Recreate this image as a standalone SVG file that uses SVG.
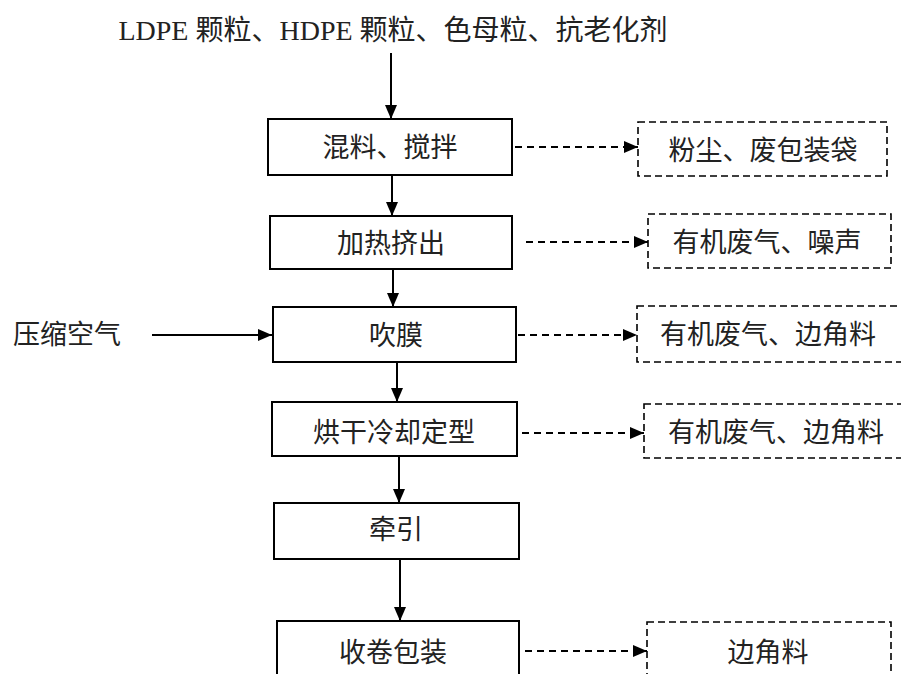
<svg xmlns="http://www.w3.org/2000/svg" width="901" height="674" viewBox="0 0 901 674">
<defs>
<marker id="ah" viewBox="0 0 14 12" refX="14" refY="6" markerWidth="14" markerHeight="12" markerUnits="userSpaceOnUse" orient="auto">
<path d="M0,0 L14,6 L0,12 Z" fill="#000"/>
</marker>
<style>
.t{font-family:"Liberation Serif","Noto Sans CJK SC",serif;font-size:27px;fill:#222;text-anchor:middle}
.box{fill:#fff;stroke:#000;stroke-width:2}
.dbox{fill:#fff;stroke:#000;stroke-width:1.6;stroke-dasharray:7 4}
.line{stroke:#000;stroke-width:2;fill:none;marker-end:url(#ah)}
.dline{stroke:#000;stroke-width:1.8;fill:none;stroke-dasharray:7 5;marker-end:url(#ah)}
</style>
</defs>
<rect width="901" height="674" fill="#fff"/>
<g id="connectors">
<line class="line" x1="391" y1="53" x2="391" y2="119"/>
<line class="line" x1="392" y1="175" x2="392" y2="216"/>
<line class="line" x1="393" y1="269" x2="393" y2="307"/>
<line class="line" x1="397" y1="362" x2="397" y2="402"/>
<line class="line" x1="399" y1="456" x2="399" y2="503"/>
<line class="line" x1="400" y1="559" x2="400" y2="621"/>
<line class="line" x1="152" y1="335" x2="272" y2="335"/>
<line class="dline" x1="515" y1="147" x2="638" y2="147"/>
<line class="dline" x1="526" y1="242" x2="648" y2="242"/>
<line class="dline" x1="518" y1="335" x2="637" y2="335"/>
<line class="dline" x1="522" y1="433" x2="644" y2="433"/>
<line class="dline" x1="525" y1="651" x2="647" y2="651"/>
</g>
<g id="input"><text class="t" x="393" y="40" style="font-size:28px">LDPE 颗粒、HDPE 颗粒、色母粒、抗老化剂</text></g>
<g id="air"><text class="t" x="67" y="344">压缩空气</text></g>
<g id="n1"><rect class="box" x="268" y="119" width="244" height="56"/><text class="t" x="390" y="157">混料、搅拌</text></g>
<g id="n2"><rect class="box" x="270" y="216" width="242" height="53"/><text class="t" x="391" y="253">加热挤出</text></g>
<g id="n3"><rect class="box" x="273" y="307" width="243" height="55"/><text class="t" x="396" y="345">吹膜</text></g>
<g id="n4"><rect class="box" x="272" y="402" width="245" height="54"/><text class="t" x="394" y="442">烘干冷却定型</text></g>
<g id="n5"><rect class="box" x="274" y="503" width="245" height="56"/><text class="t" x="396" y="539">牵引</text></g>
<g id="n6"><rect class="box" x="277" y="621" width="242" height="60"/><text class="t" x="393" y="662">收卷包装</text></g>
<g id="d1"><rect class="dbox" x="638" y="122" width="249" height="54"/><text class="t" x="763" y="160">粉尘、废包装袋</text></g>
<g id="d2"><rect class="dbox" x="648" y="214" width="243" height="54"/><text class="t" x="767" y="252">有机废气、噪声</text></g>
<g id="d3"><rect class="dbox" x="637" y="306" width="270" height="56"/><text class="t" x="768" y="344">有机废气、边角料</text></g>
<g id="d4"><rect class="dbox" x="644" y="404" width="262" height="54"/><text class="t" x="776" y="442">有机废气、边角料</text></g>
<g id="d6"><rect class="dbox" x="647" y="622" width="244" height="60"/><text class="t" x="768" y="662">边角料</text></g>
</svg>
